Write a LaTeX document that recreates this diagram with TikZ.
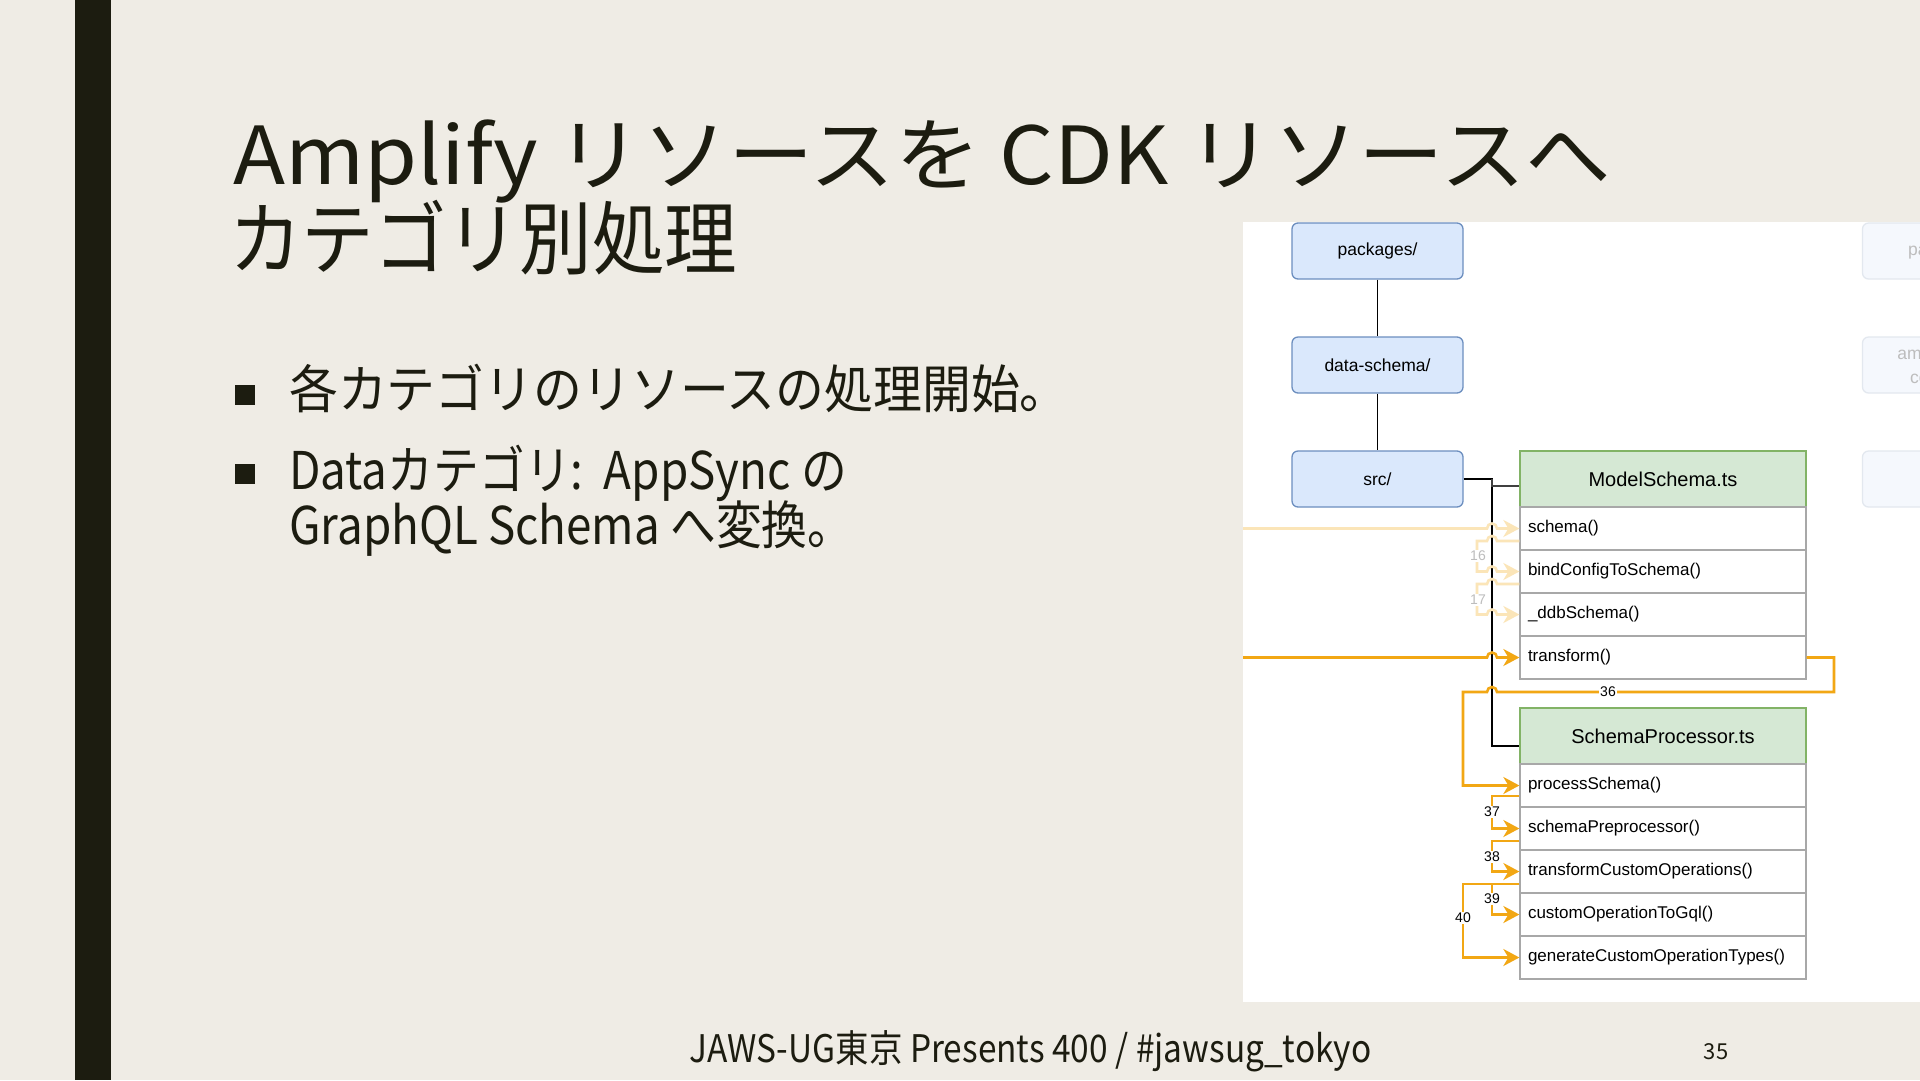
\documentclass[tikz,border=0pt]{standalone}
\usepackage{fontspec}
\usepackage{graphicx}
\usetikzlibrary{arrows.meta}
\newfontfamily\jpf{Noto Sans CJK JP}
\newfontfamily\dgf{Liberation Sans}
\definecolor{bgc}{HTML}{EFECE5}
\definecolor{inkc}{HTML}{1C1C10}
\definecolor{bluefill}{HTML}{DAE8FC}
\definecolor{bluedraw}{HTML}{6C8EBF}
\definecolor{grfill}{HTML}{D5E8D4}
\definecolor{grdraw}{HTML}{82B366}
\definecolor{rowdraw}{HTML}{A8A8A8}
\definecolor{orc}{HTML}{F2A714}
\colorlet{orfade}{orc!30!white}
\definecolor{ghostfill}{HTML}{F5F8FD}
\definecolor{ghostdraw}{HTML}{E3E8EF}
\definecolor{ghosttext}{HTML}{BDBDBD}
\tikzset{
  bluebox/.style={draw=bluedraw, fill=bluefill, line width=1.3pt, rounded corners=6pt,
    minimum width=171pt, minimum height=56pt, inner sep=0pt, font=\dgf\fontsize{17.5}{21}\selectfont, text=black},
  ghostbox/.style={draw=ghostdraw, fill=ghostfill, line width=1.3pt, rounded corners=6pt,
    minimum width=171pt, minimum height=56pt, inner sep=0pt, align=center,
    font=\dgf\fontsize{17.5}{24}\selectfont, text=ghosttext},
  hdrbox/.style={draw=grdraw, fill=grfill, line width=1.3pt, minimum width=286pt,
    minimum height=56pt, inner sep=0pt, font=\dgf\fontsize{20}{24}\selectfont, text=black},
  rowbox/.style={draw=rowdraw, fill=white, line width=1.3pt, text width=270pt, inner xsep=8pt,
    inner ysep=0pt, minimum height=43pt, align=left, font=\dgf\fontsize{17}{20}\selectfont, text=black},
  blk/.style={draw=black, line width=1.1pt},
  oln/.style={draw=orc, line width=2.6pt, -{Stealth[length=16pt,width=17pt,inset=5pt]}},
  fln/.style={draw=orfade, line width=2.6pt, -{Stealth[length=16pt,width=17pt,inset=5pt]}},
  numlbl/.style={fill=white, inner sep=1pt, font=\dgf\fontsize{14}{14}\selectfont, text=black},
  fnumlbl/.style={fill=white, inner sep=1pt, font=\dgf\fontsize{14}{14}\selectfont, text=ghosttext},
  bsq/.style={fill=inkc, minimum size=20pt, inner sep=0pt},
  txt/.style={anchor=base west, inner sep=0pt, text=inkc}
}
\begin{document}
\begin{tikzpicture}[x=1pt,y=-1pt]
\useasboundingbox (0,0) rectangle (1920,1080);
\fill[bgc] (0,0) rectangle (1920,1080);
\fill[inkc] (75,0) rectangle (111,1080);

% title
\node[txt] (t1) at (233,184) {\resizebox{1378pt}{\height}{\jpf\fontsize{80}{80}\selectfont Amplify リソースを CDK リソースへ}};
\node[txt] (t2) at (229,268) {\resizebox{508pt}{\height}{\jpf\fontsize{80}{80}\selectfont カテゴリ別処理}};

% bullets
\node[bsq] (b1) at (245,395) {};
\node[bsq] (b2) at (245,473.5) {};
\node[txt] (l1) at (289,408) {\scalebox{0.94}[1]{\jpf\fontsize{52}{52}\selectfont 各カテゴリのリソースの処理開始。}};
\node[txt] (l2) at (289,489) {\scalebox{0.88}[1]{\jpf\fontsize{52}{52}\selectfont Dataカテゴリ:\hspace{0.45em}AppSync の}};
\node[txt] (l3) at (289,544) {\scalebox{0.88}[1]{\jpf\fontsize{52}{52}\selectfont GraphQL Schema へ変換。}};

% footer
\node[txt] (ft) at (689,1062) {\resizebox{682pt}{\height}{\jpf\fontsize{38}{38}\selectfont JAWS-UG東京 Presents 400 / \#jawsug\_tokyo}};
\node[anchor=base, inner sep=0pt, text=inkc] (pg) at (1716,1059) {\jpf\fontsize{22}{22}\selectfont 35};

% diagram panel
\fill[white] (1243,222) rectangle (1920,1002);
\begin{scope}
\clip (1243,222) rectangle (1920,1002);

\node[ghostbox] (g1) at (1948,251) {packages/};
\node[ghostbox] (g2) at (1948,365) {amplify-data-\\construct/};
\node[ghostbox] (g3) at (1948,479) {};

\node[bluebox] (pk) at (1377.5,251) {packages/};
\node[bluebox] (ds) at (1377.5,365) {data-schema/};
\node[bluebox] (src) at (1377.5,479) {src/};
\draw[blk] (pk) -- (ds);
\draw[blk] (ds) -- (src);

\node[hdrbox] (ms) at (1663,479) {ModelSchema.ts};
\node[rowbox] (mr1) at (1663,528.5) {schema()};
\node[rowbox] (mr2) at (1663,571.5) {bindConfigToSchema()};
\node[rowbox] (mr3) at (1663,614.5) {\_ddbSchema()};
\node[rowbox] (mr4) at (1663,657.5) {transform()};

\node[hdrbox] (sp) at (1663,736) {SchemaProcessor.ts};
\node[rowbox] (sr1) at (1663,785.5) {processSchema()};
\node[rowbox] (sr2) at (1663,828.5) {schemaPreprocessor()};
\node[rowbox] (sr3) at (1663,871.5) {transformCustomOperations()};
\node[rowbox] (sr4) at (1663,914.5) {customOperationToGql()};
\node[rowbox] (sr5) at (1663,957.5) {generateCustomOperationTypes()};

% tree connectors
\coordinate (jn) at (1492,479);
\draw[blk] (src.east) -- (jn) |- ([yshift=-10pt]sp.west);
\draw[draw=black!75, line width=1.1pt] (jn) |- ([yshift=-7pt]ms.west);

% faded calls
\coordinate (inS) at (1243,528.5);
\draw[fln] (inS) -- (1487,528.5) arc[start angle=180,end angle=360,radius=5] -- (mr1.west);
\draw[fln] ([yshift=-12.5pt]mr1.west) -- (1497,541) arc[start angle=0,end angle=-180,radius=5] -- (1477,541) -- (1477,571.5) -- (1487,571.5) arc[start angle=180,end angle=360,radius=5] -- (mr2.west);
\draw[fln] ([yshift=-12.5pt]mr2.west) -- (1497,584) arc[start angle=0,end angle=-180,radius=5] -- (1477,584) -- (1477,614.5) -- (1487,614.5) arc[start angle=180,end angle=360,radius=5] -- (mr3.west);
\node[fnumlbl] (n16) at (1478,556) {16};
\node[fnumlbl] (n17) at (1478,600) {17};

% transform call
\coordinate (inT) at (1243,657.5);
\draw[oln] (inT) -- (1487,657.5) arc[start angle=180,end angle=360,radius=5] -- (mr4.west);

% 36
\draw[oln] (mr4.east) -- (1834,657.5) -- (1834,692) -- (1497,692) arc[start angle=0,end angle=-180,radius=5] -- (1463,692) -- (1463,785.5) -- (sr1.west);
\node[numlbl] (n36) at (1608,692) {36};

% 37-40
\draw[oln] ([yshift=-10.5pt]sr1.west) -- (1492,796) -- (1492,828.5) -- (sr2.west);
\draw[oln] ([yshift=-12.5pt]sr2.west) -- (1492,841) -- (1492,871.5) -- (sr3.west);
\draw[oln] ([yshift=-12.5pt]sr3.west) -- (1492,884) -- (1492,914.5) -- (sr4.west);
\draw[oln] ([yshift=-12.5pt]sr3.west) -- (1463,884) -- (1463,957.5) -- (sr5.west);
\node[numlbl] (n37) at (1492,812) {37};
\node[numlbl] (n38) at (1492,857) {38};
\node[numlbl] (n39) at (1492,899) {39};
\node[numlbl] (n40) at (1463,918) {40};
\end{scope}
\end{tikzpicture}
\end{document}
